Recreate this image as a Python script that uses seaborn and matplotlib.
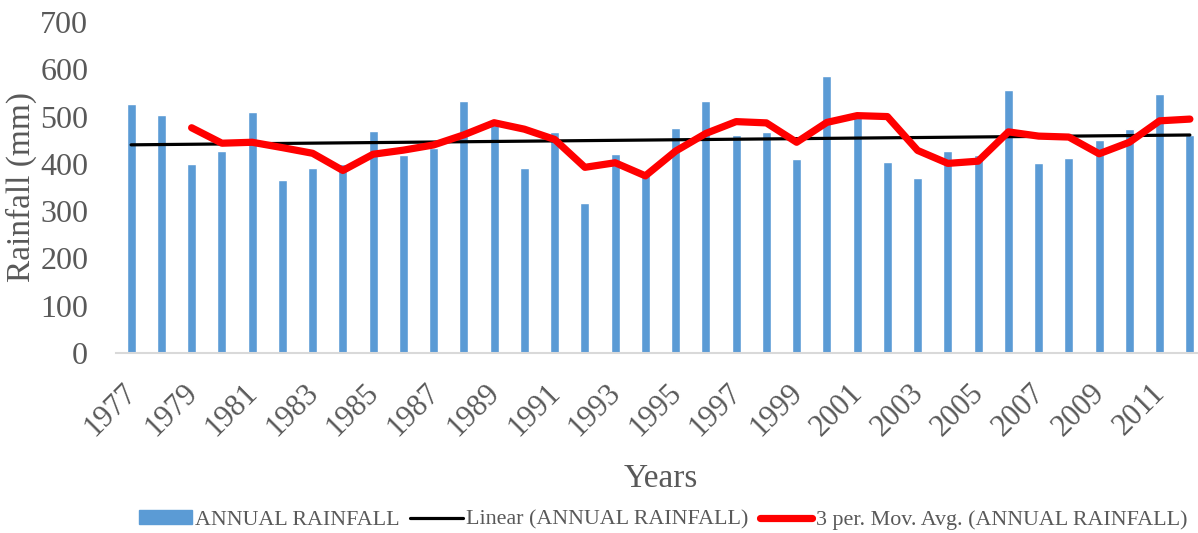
import numpy as np
import pandas as pd
import seaborn as sns
import matplotlib.pyplot as plt
from matplotlib.patches import Patch
from matplotlib.lines import Line2D
from matplotlib.transforms import ScaledTranslation

years = list(range(1977, 2013))
rainfall = [526, 503, 400, 428, 509, 366, 392, 400, 469, 418,
            433, 533, 495, 392, 468, 318, 421, 385, 475, 533,
            460, 467, 410, 586, 510, 404, 371, 428, 418, 557,
            401, 412, 451, 474, 548, 462]

df = pd.DataFrame({"Year": years, "Rainfall": rainfall})
df["pos"] = np.arange(len(df))
df["MA3"] = df["Rainfall"].rolling(3).mean()
slope, icpt = np.polyfit(df["pos"], df["Rainfall"], 1)
df["Trend"] = icpt + slope * df["pos"]

sns.set_theme(style="white")
plt.rcParams["font.family"] = ["Liberation Serif", "DejaVu Serif"]
grey = "#595959"

fig = plt.figure(figsize=(11.98, 5.33), dpi=100)
ax = fig.add_axes([116 / 1198, 180 / 533, 1089 / 1198, 331 / 533])

sns.barplot(ax=ax, x="pos", y="Rainfall", data=df, color="#5B9BD5",
            width=0.3, saturation=1, native_scale=True)
sns.lineplot(ax=ax, x="pos", y="Trend", data=df, color="black", lw=2.3)
sns.lineplot(ax=ax, x="pos", y="MA3", data=df, color="#FF0000", lw=5.2)

ax.set_xlim(-0.5, len(df) - 0.5)
ax.set_ylim(0, 700)
ax.set_yticks(range(0, 701, 100))
ax.set_xticks(df["pos"][::2])
ax.set_xticklabels(df["Year"][::2], rotation=45, ha="right", va="top",
                   rotation_mode="anchor")
ax.tick_params(axis="y", length=0, pad=20, labelsize=23, labelcolor=grey)
ax.tick_params(axis="x", length=0, pad=18, labelsize=22, labelcolor=grey)
# nudge the year labels a little to the left
shift = ScaledTranslation(-9 / 100, 0, fig.dpi_scale_trans)
for lab in ax.get_xticklabels():
    lab.set_transform(lab.get_transform() + shift)
for s in ["top", "right", "left"]:
    ax.spines[s].set_visible(False)
ax.spines["bottom"].set_color("#D9D9D9")
ax.spines["bottom"].set_linewidth(1.5)
ax.set_xlabel("Years", fontsize=24, color=grey, labelpad=16)
ax.set_ylabel("Rainfall (mm)", fontsize=24, color=grey, labelpad=2)

handles = [Patch(color="#5B9BD5"),
           Line2D([], [], color="black", lw=2.3),
           Line2D([], [], color="#FF0000", lw=5.2)]
labels = ["ANNUAL RAINFALL", "Linear (ANNUAL RAINFALL)",
          "3 per. Mov. Avg. (ANNUAL RAINFALL)"]
fig.legend(handles, labels, loc="center", ncol=3, frameon=False,
           bbox_to_anchor=(663 / 1198, 13 / 533), fontsize=15.8,
           labelcolor=grey, handlelength=2.4, handleheight=0.55,
           handletextpad=0.15, columnspacing=0.5, borderpad=0)

fig.savefig("out.png", dpi=100)
